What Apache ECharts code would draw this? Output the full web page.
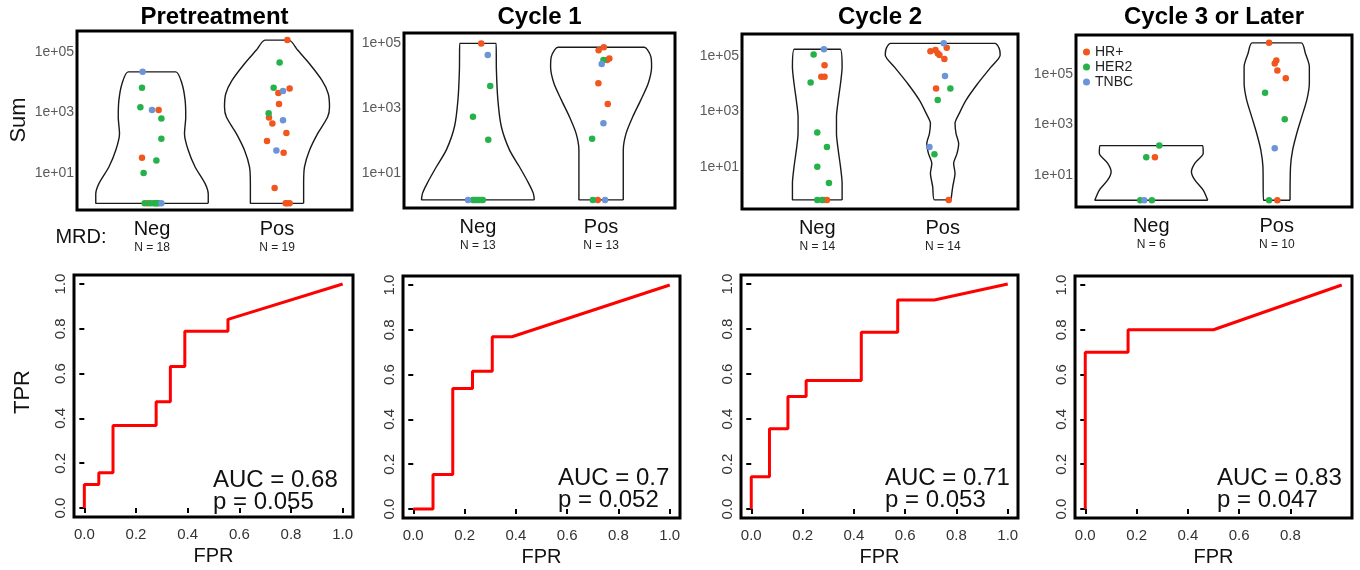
<!DOCTYPE html>
<html>
<head>
<meta charset="utf-8">
<script src="https://cdn.jsdelivr.net/npm/echarts@6/dist/echarts.min.js"></script>
<style>
html, body { margin: 0; padding: 0; background: #fff; }
#main { width: 1360px; height: 570px; }
</style>
</head>
<body>
<div id="main"></div>
<script>
const FONT = '"Liberation Sans", Arial, Helvetica, sans-serif';
const subtypes = ['HR+', 'HER2', 'TNBC'];
const subtypeColors = ['#f0561d', '#25b24a', '#6c94d8'];
const panelTitles = ['Pretreatment', 'Cycle 1', 'Cycle 2', 'Cycle 3 or Later'];
const groups = ['Neg', 'Pos'];
const sumTicks = [1, 3, 5];          // log10 of 1e+01, 1e+03, 1e+05
const rateTicks = [0, 0.2, 0.4, 0.6, 0.8, 1.0];
const rateTicksLast = [0, 0.2, 0.4, 0.6, 0.8];

// MRD sum per patient: [sum, subtype, jitter]
const preNeg = [[22000, 'TNBC', -0.075], [6500, 'HER2', -0.08], [1500, 'HER2', -0.093], [1200, 'TNBC', 0], [1200, 'HR+', 0.053],
  [630, 'HER2', 0.075], [135, 'HER2', 0.075], [32, 'HR+', -0.08], [26, 'HER2', 0.035], [10, 'HER2', -0.067],
  [1, 'HER2', -0.059], [1, 'HR+', -0.035], [1, 'HER2', -0.013], [1, 'HER2', 0.013], [1, 'HER2', 0.027], [1, 'HER2', 0.04], [1, 'HER2', 0.053], [1, 'TNBC', 0.075]];
const prePos = [[245000, 'HR+', 0.083], [45000, 'HER2', 0.021], [6600, 'HER2', -0.027], [6200, 'HR+', 0.101], [5100, 'TNBC', 0.048],
  [4400, 'HR+', 0.011], [1900, 'HR+', 0.016], [950, 'HER2', -0.067], [680, 'HR+', -0.064], [550, 'TNBC', 0.048], [430, 'HR+', -0.037],
  [210, 'HR+', 0.075], [115, 'HR+', -0.08], [56, 'TNBC', -0.005], [47, 'HR+', 0.053], [3.2, 'HR+', -0.019],
  [1, 'HR+', 0.069], [1, 'HR+', 0.101], [1, 'HR+', 0.08]];
const c1Neg = [[100000, 'HR+', 0.027], [44000, 'TNBC', 0.08], [4900, 'HER2', 0.1], [550, 'HER2', -0.04], [107, 'HER2', 0.084],
  [1.5, 'TNBC', -0.08], [1.5, 'HER2', -0.04], [1.5, 'HER2', -0.027], [1.5, 'HER2', -0.013], [1.5, 'HER2', 0], [1.5, 'HER2', 0.008], [1.5, 'HER2', 0.027], [1.5, 'HER2', 0.04]];
const c1Pos = [[76000, 'HR+', 0.022], [62000, 'HR+', -0.02], [34000, 'HR+', 0.067], [31000, 'HR+', 0.048], [31000, 'HER2', 0.019],
  [23000, 'TNBC', 0.005], [5900, 'HR+', -0.022], [1350, 'HR+', 0.054], [350, 'TNBC', 0.019], [115, 'HER2', -0.073],
  [1.5, 'HER2', -0.067], [1.5, 'HR+', -0.027], [1.5, 'TNBC', 0.032]];
const c2Neg = [[178000, 'TNBC', 0.053], [115000, 'HER2', -0.029], [47000, 'HR+', 0.058], [18000, 'HR+', 0.032], [18000, 'HR+', 0.058],
  [11000, 'HER2', -0.053], [174, 'HER2', 0], [52, 'HER2', 0.077], [10, 'HER2', 0], [2.6, 'HER2', 0.093],
  [0.63, 'HER2', 0], [0.63, 'HER2', 0.037], [0.63, 'HR+', 0.053], [0.63, 'HR+', 0.077]];
const c2Pos = [[290000, 'TNBC', 0.008], [200000, 'HR+', 0.032], [166000, 'HR+', -0.058], [150000, 'HR+', -0.098], [126000, 'HR+', -0.04],
  [110000, 'HR+', -0.026], [78000, 'HR+', 0.013], [19000, 'TNBC', 0.018], [6800, 'HR+', -0.053], [6800, 'HER2', 0.061],
  [2600, 'HER2', -0.04], [52, 'TNBC', -0.106], [28, 'HER2', -0.066], [0.63, 'HR+', 0.048]];
const c3Neg = [[145, 'HER2', 0.064], [50, 'HER2', -0.04], [50, 'HR+', 0.029], [1, 'HER2', -0.088], [1, 'TNBC', -0.056], [1, 'HER2', 0.005]];
const c3Pos = [[1700000, 'HR+', -0.061], [340000, 'HR+', -0.003], [260000, 'HR+', -0.016], [135000, 'HR+', 0.005], [68000, 'HR+', 0.072],
  [18000, 'HER2', -0.093], [1600, 'HER2', 0.064], [115, 'TNBC', -0.016], [1, 'HER2', -0.061], [1, 'HR+', 0.005]];

// violin outlines: [log10 sum, half width]
const preNegShape = [[0, 0.45], [0.3, 0.45], [0.65, 0.425], [1.2, 0.345], [1.75, 0.29], [2.3, 0.26], [2.85, 0.27], [3.4, 0.265], [3.95, 0.24], [4.34, 0.19]];
const prePosShape = [[0, 0.213], [0.65, 0.213], [1.2, 0.22], [1.75, 0.26], [2.3, 0.325], [2.85, 0.405], [3.18, 0.42], [3.62, 0.41], [4.06, 0.36], [4.61, 0.26], [5.06, 0.165], [5.39, 0.096]];
const c1NegShape = [[0.18, 0.458], [0.38, 0.45], [0.69, 0.412], [1.2, 0.337], [1.72, 0.256], [2.44, 0.19], [3.26, 0.162], [4.2, 0.15], [5.0, 0.148]];
const c1PosShape = [[0.18, 0.18], [1.72, 0.18], [2.23, 0.203], [2.74, 0.257], [3.26, 0.323], [3.77, 0.383], [4.28, 0.41], [4.59, 0.404], [4.8, 0.377], [4.88, 0.35]];
const c2NegShape = [[-0.2, 0.198], [0.4, 0.198], [1.0, 0.185], [1.6, 0.167], [2.2, 0.153], [2.8, 0.153], [3.4, 0.167], [4.0, 0.185], [4.6, 0.198], [5.25, 0.183]];
const c2PosShape = [[-0.2, 0.066], [0.28, 0.08], [0.76, 0.098], [1.12, 0.087], [1.48, 0.114], [1.84, 0.127], [2.2, 0.106], [2.57, 0.098], [2.93, 0.132],
  [3.4, 0.185], [4.0, 0.278], [4.6, 0.384], [5.04, 0.458], [5.28, 0.45], [5.46, 0.415]];
const c3NegShape = [[0, 0.45], [0.4, 0.414], [0.8, 0.347], [1.13, 0.32], [1.46, 0.347], [1.86, 0.414], [2.16, 0.41]];
const c3PosShape = [[0, 0.106], [1.33, 0.11], [1.99, 0.127], [2.65, 0.16], [3.31, 0.2], [3.97, 0.24], [4.63, 0.26], [5.29, 0.26], [5.82, 0.228], [6.23, 0.196]];

// ROC curves [FPR, TPR]
const rocPre = [[0, 0], [0, 0.105], [0.056, 0.105], [0.056, 0.158], [0.111, 0.158], [0.111, 0.368], [0.278, 0.368], [0.278, 0.474],
  [0.333, 0.474], [0.333, 0.632], [0.389, 0.632], [0.389, 0.789], [0.556, 0.789], [0.556, 0.842], [1, 1]];
const rocC1 = [[0, 0], [0.077, 0], [0.077, 0.154], [0.154, 0.154], [0.154, 0.538], [0.231, 0.538], [0.231, 0.615], [0.308, 0.615],
  [0.308, 0.769], [0.385, 0.769], [1, 1]];
const rocC2 = [[0, 0], [0, 0.143], [0.071, 0.143], [0.071, 0.357], [0.143, 0.357], [0.143, 0.5], [0.214, 0.5], [0.214, 0.571],
  [0.429, 0.571], [0.429, 0.786], [0.571, 0.786], [0.571, 0.929], [0.714, 0.929], [1, 1]];
const rocC3 = [[0, 0], [0, 0.7], [0.167, 0.7], [0.167, 0.8], [0.5, 0.8], [1, 1]];
const aucText = ['AUC = 0.68', 'AUC = 0.7', 'AUC = 0.71', 'AUC = 0.83'];
const pText = ['p = 0.055', 'p = 0.052', 'p = 0.053', 'p = 0.047'];

const panels = [
  { neg: preNeg, pos: prePos, negShape: preNegShape, posShape: prePosShape, roc: rocPre, yMin: -0.22, yMax: 5.69 },
  { neg: c1Neg, pos: c1Pos, negShape: c1NegShape, posShape: c1PosShape, roc: rocC1, yMin: -0.07, yMax: 5.32 },
  { neg: c2Neg, pos: c2Pos, negShape: c2NegShape, posShape: c2PosShape, roc: rocC2, yMin: -0.53, yMax: 5.8 },
  { neg: c3Neg, pos: c3Pos, negShape: c3NegShape, posShape: c3PosShape, roc: rocC3, yMin: -0.27, yMax: 6.54 }
];

// layout (px)
const topBoxes = [[77, 31, 275, 179], [404, 33, 271, 175], [742, 34, 276, 175], [1076, 35, 276, 172]];
const rocBoxes = [[74, 275, 279, 242], [403, 276, 277, 242], [741, 275, 277, 243], [1075, 276, 277, 242]];
const aucPos = [[213, 480], [558, 478], [885, 478], [1217, 478]];

function violinPath(center, shape) {
  const right = shape.map(d => [center + d[1], d[0]]);
  const left = shape.map(d => [center - d[1], d[0]]).reverse();
  return right.concat(left, [right[0]]);
}

const grid = [], xAxis = [], yAxis = [], series = [], graphic = [];
const boxStyle = { show: true, borderColor: '#000', borderWidth: 3, backgroundColor: 'transparent', outerBoundsMode: 'none' };

// violin panels: grids 0-3
panels.forEach((p, i) => {
  const tb = topBoxes[i];
  grid.push(Object.assign({ left: tb[0], top: tb[1], width: tb[2], height: tb[3] }, boxStyle));
  const counts = [p.neg.length, p.pos.length];
  xAxis.push({
    gridIndex: i, type: 'value', min: 0.4, max: 2.6,
    axisLine: { show: false }, axisTick: { show: false }, splitLine: { show: false },
    axisLabel: {
      customValues: [1, 2], margin: 8,
      formatter: v => '{g|' + groups[v - 1] + '}\n{n|N = ' + counts[v - 1] + '}',
      rich: {
        g: { fontFamily: FONT, fontSize: 20, color: '#111', lineHeight: 22 },
        n: { fontFamily: FONT, fontSize: 12, color: '#222', lineHeight: 16 }
      }
    }
  });
  yAxis.push({
    gridIndex: i, type: 'value', min: p.yMin, max: p.yMax,
    axisLine: { show: false }, axisTick: { show: false }, splitLine: { show: false },
    axisLabel: { customValues: sumTicks, formatter: v => '1e+0' + v, margin: 3, color: '#5a5a5a', fontSize: 14, fontFamily: FONT }
  });
  [p.negShape, p.posShape].forEach((shape, g) => {
    series.push({
      type: 'line', xAxisIndex: i, yAxisIndex: i, data: violinPath(g + 1, shape),
      symbol: 'none', smooth: 0.25, silent: true, z: 2,
      lineStyle: { color: '#1a1a1a', width: 1.4 }
    });
  });
  subtypes.forEach((s, k) => {
    const pts = [];
    [p.neg, p.pos].forEach((arr, g) => {
      arr.forEach(d => { if (d[1] === s) pts.push([g + 1 + d[2], Math.log10(d[0])]); });
    });
    series.push({
      type: 'scatter', name: s, xAxisIndex: i, yAxisIndex: i, data: pts,
      symbolSize: 6.5, z: 3, itemStyle: { color: subtypeColors[k], opacity: 1 }
    });
  });
  graphic.push({
    type: 'text', x: tb[0] + tb[2] / 2, y: 17,
    style: { text: panelTitles[i], fontFamily: FONT, fontSize: 24, fontWeight: 'bold', fill: '#000', align: 'center', verticalAlign: 'middle' }
  });
});

// ROC panels: grids 4-7
panels.forEach((p, i) => {
  const rb = rocBoxes[i];
  const gi = 4 + i;
  const xt = i === 3 ? rateTicksLast : rateTicks;
  grid.push(Object.assign({ left: rb[0], top: rb[1], width: rb[2], height: rb[3] }, boxStyle));
  xAxis.push({
    gridIndex: gi, type: 'value', min: -0.04, max: 1.04,
    axisLine: { show: false }, splitLine: { show: false },
    axisTick: { show: true, customValues: xt, length: 5, lineStyle: { color: '#000', width: 2 } },
    axisLabel: { customValues: xt, formatter: v => v.toFixed(1), margin: 10, fontSize: 15, color: '#333', fontFamily: FONT },
    name: 'FPR', nameLocation: 'middle', nameGap: 29,
    nameTextStyle: { fontFamily: FONT, fontSize: 20, color: '#111' }
  });
  yAxis.push({
    gridIndex: gi, type: 'value', min: -0.04, max: 1.04,
    axisLine: { show: false }, splitLine: { show: false },
    axisTick: { show: true, customValues: rateTicks, length: 5, lineStyle: { color: '#000', width: 2 } },
    axisLabel: { customValues: rateTicks, formatter: v => v.toFixed(1), rotate: 90, margin: 6, fontSize: 15, color: '#333', fontFamily: FONT }
  });
  series.push({
    type: 'line', xAxisIndex: gi, yAxisIndex: gi, data: p.roc,
    symbol: 'none', silent: true, lineStyle: { color: '#ff0000', width: 3 }
  });
  graphic.push({
    type: 'text', x: aucPos[i][0], y: aucPos[i][1],
    style: { text: aucText[i], fontFamily: FONT, fontSize: 24, fill: '#111', align: 'left', verticalAlign: 'middle' }
  });
  graphic.push({
    type: 'text', x: aucPos[i][0], y: aucPos[i][1] + 22,
    style: { text: pText[i], fontFamily: FONT, fontSize: 24, fill: '#111', align: 'left', verticalAlign: 'middle' }
  });
});

graphic.push({
  type: 'text', x: 19, y: 120, rotation: Math.PI / 2,
  style: { text: 'Sum', fontFamily: FONT, fontSize: 22, fill: '#111', align: 'center', verticalAlign: 'middle' }
});
graphic.push({
  type: 'text', x: 23, y: 392, rotation: Math.PI / 2,
  style: { text: 'TPR', fontFamily: FONT, fontSize: 22, fill: '#111', align: 'center', verticalAlign: 'middle' }
});
graphic.push({
  type: 'text', x: 81, y: 237,
  style: { text: 'MRD:', fontFamily: FONT, fontSize: 20, fill: '#111', align: 'center', verticalAlign: 'middle' }
});

const chart = echarts.init(document.getElementById('main'), null, { renderer: 'canvas' });
chart.setOption({
  animation: false,
  backgroundColor: '#fff',
  legend: {
    data: subtypes, orient: 'vertical', left: 1083, top: 45,
    icon: 'circle', itemWidth: 7, itemHeight: 7, itemGap: 1, padding: 0,
    textStyle: { fontFamily: FONT, fontSize: 14, color: '#222' },
    selectedMode: false
  },
  grid, xAxis, yAxis, series, graphic
});
</script>
</body>
</html>
